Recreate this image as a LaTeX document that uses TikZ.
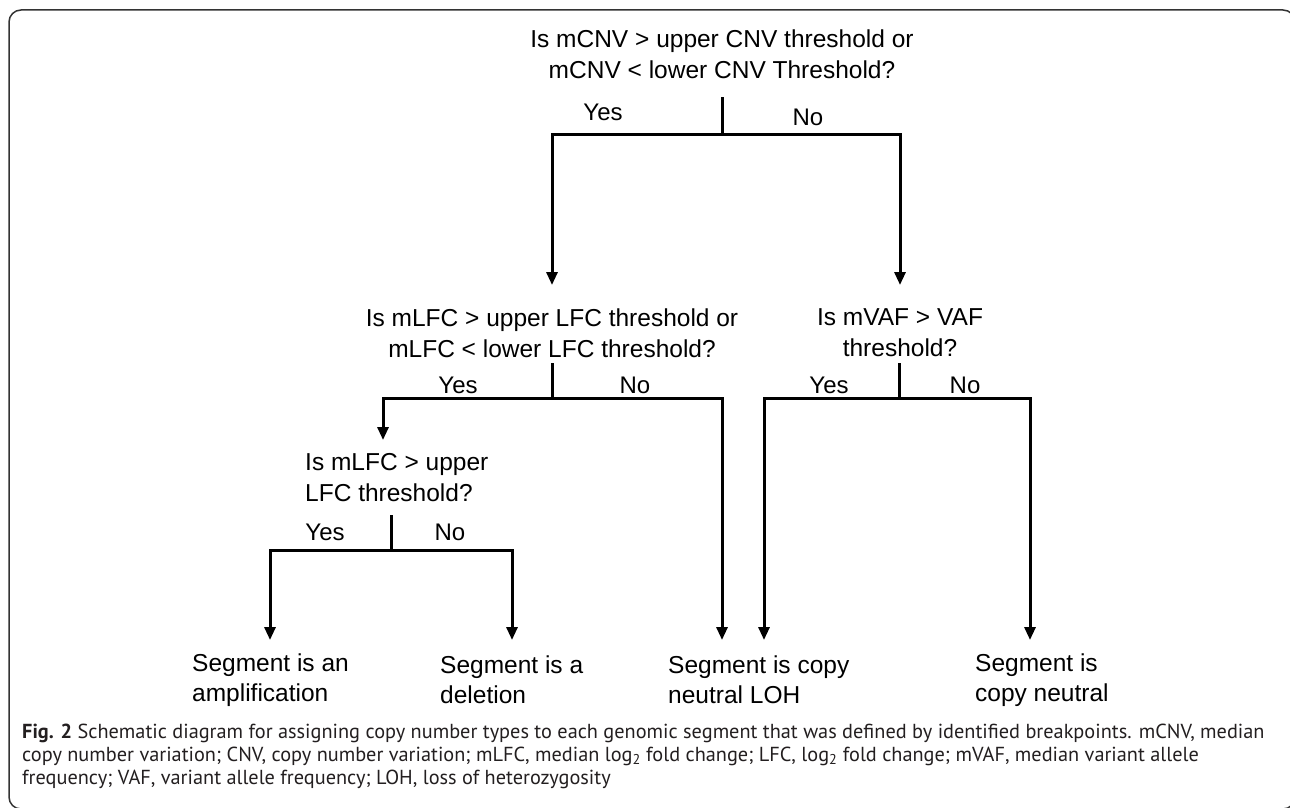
\documentclass[tikz,border=0pt]{standalone}
\usepackage{fontspec}
\setmainfont{Liberation Sans}
\newfontfamily\capfont{PT Sans}
\usetikzlibrary{arrows.meta}
\definecolor{capgray}{HTML}{231F20}
\definecolor{framegray}{HTML}{333333}
\begin{document}
\begin{tikzpicture}[x=1pt,y=-1pt,
  q/.style={font=\fontsize{24.5}{31}\selectfont, inner sep=0pt, align=center},
  lbl/.style={font=\fontsize{24}{28}\selectfont, inner sep=0pt},
  leaf/.style={font=\fontsize{24.5}{30}\selectfont, inner sep=0pt, align=left, anchor=west},
  link/.style={line width=3pt},
  arr/.style={line width=3pt, -{Triangle[length=13pt,width=11pt]}},
  captext/.style={font=\capfont\fontsize{20.3}{23}\selectfont, text=capgray, anchor=base west, inner sep=0pt}]
\useasboundingbox (0,0) rectangle (1290,808);
\fill[white] (0,0) rectangle (1290,808);
\draw[line width=1.5pt, draw=framegray, rounded corners=12pt] (9,10) rectangle (1295,809);

% questions
\node[q] (q1) at (722,54) {Is mCNV > upper CNV threshold or\\mCNV < lower CNV Threshold?};
\node[q] (q2) at (552,333) {Is mLFC > upper LFC threshold or\\mLFC < lower LFC threshold?};
\node[q] (q3) at (900,333) {Is mVAF > VAF\\threshold?};
\node[q, align=left, anchor=west] (q4) at (305,478) {Is mLFC > upper\\LFC threshold?};

% leaves
\node[leaf] (l1) at (192,680) {Segment is an\\amplification};
\node[leaf] (l2) at (440,680) {Segment is a\\deletion};
\node[leaf] (l3) at (668,680) {Segment is copy\\neutral LOH};
\node[leaf] (l4) at (975,680) {Segment is\\copy neutral};

% labels
\node[lbl] (y1) at (603,112) {Yes};
\node[lbl] (n1) at (808,117) {No};
\node[lbl] (y2) at (458,385) {Yes};
\node[lbl] (n2) at (635,385) {No};
\node[lbl] (y3) at (829,385) {Yes};
\node[lbl] (n3) at (965,385) {No};
\node[lbl] (y4) at (325,532) {Yes};
\node[lbl] (n4) at (450,532) {No};

% junction coordinates
\coordinate (s1) at (722,97);  \coordinate (j1) at (722,134);
\coordinate (t2) at (552,285); \coordinate (t3) at (900,285);
\coordinate (s2) at (552,363); \coordinate (j2) at (552,398);
\coordinate (s3) at (899,363); \coordinate (j3) at (899,398);
\coordinate (t4) at (383,440);
\coordinate (s4) at (391,515); \coordinate (j4) at (391,550);
\coordinate (t5) at (270,640); \coordinate (t6) at (512,640);
\coordinate (t7) at (722,640); \coordinate (t8) at (764,640);
\coordinate (t9) at (1030,640);

% connectors
\draw[link] (s1) -- (j1);
\draw[arr] (j1) -| (t2);
\draw[arr] (j1) -| (t3);
\draw[link] (s2) -- (j2);
\draw[arr] (j2) -| (t4);
\draw[arr] (j2) -| (t7);
\draw[link] (s3) -- (j3);
\draw[arr] (j3) -| (t8);
\draw[arr] (j3) -| (t9);
\draw[link] (s4) -- (j4);
\draw[arr] (j4) -| (t5);
\draw[arr] (j4) -| (t6);

% caption
\node[captext] (c1) at (22,738) {\textbf{Fig. 2} Schematic diagram for assigning copy number types to each genomic segment that was defined by identified breakpoints. mCNV, median};
\node[captext] (c2) at (22,761) {copy number variation; CNV, copy number variation; mLFC, median log\textsubscript{2} fold change; LFC, log\textsubscript{2} fold change; mVAF, median variant allele};
\node[captext] (c3) at (22,784) {frequency; VAF, variant allele frequency; LOH, loss of heterozygosity};
\end{tikzpicture}
\end{document}
